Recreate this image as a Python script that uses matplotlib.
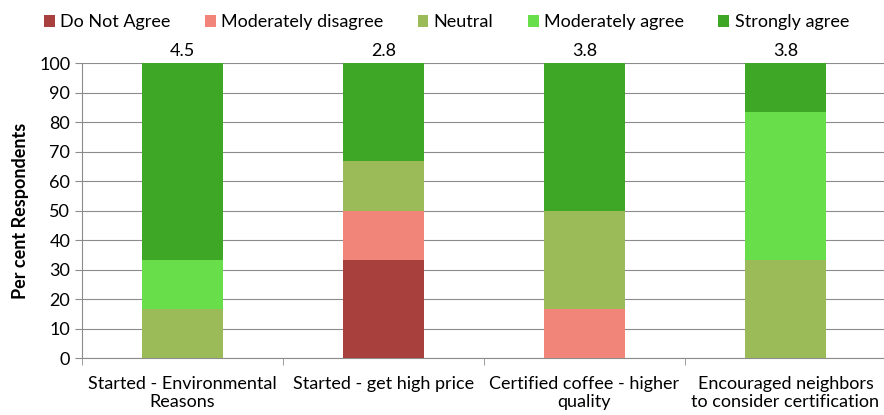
import numpy as np
import matplotlib
matplotlib.use("Agg")
import matplotlib.pyplot as plt

plt.rcParams['font.family'] = ['Lato', 'DejaVu Sans']

categories = ["Started - Environmental\nReasons", "Started - get high price",
              "Certified coffee - higher\nquality", "Encouraged neighbors\nto consider certification"]
series = ["Do Not Agree", "Moderately disagree", "Neutral", "Moderately agree", "Strongly agree"]
values = {
    "Do Not Agree":        [0.0, 33.3, 0.0, 0.0],
    "Moderately disagree": [0.0, 16.7, 16.7, 0.0],
    "Neutral":             [16.7, 16.7, 33.3, 33.3],
    "Moderately agree":    [16.7, 0.0, 0.0, 50.0],
    "Strongly agree":      [66.6, 33.3, 50.0, 16.7],
}
mean_scores = ["4.5", "2.8", "3.8", "3.8"]
colors = ["#A8403D", "#F2857A", "#9BBB59", "#69DE4B", "#3EA826"]

fig = plt.figure(figsize=(8.84, 4.15), dpi=100)
ax = fig.add_axes([0.0928, 0.137, 0.9094, 0.711])

x = np.arange(len(categories))
bottom = np.zeros(len(categories))
for name, col in zip(series, colors):
    v = np.array(values[name])
    ax.bar(x, v, 0.4, bottom=bottom, color=col, label=name, zorder=3)
    bottom += v

for xi, s in zip(x, mean_scores):
    ax.text(xi, 101.5, s, ha='center', va='bottom', fontsize=13, clip_on=False)

ax.set_xlim(-0.5, len(categories) - 0.5)
ax.set_ylim(0, 100)
ax.set_yticks(range(0, 101, 10))
ax.yaxis.grid(True, color='#8c8c8c', linewidth=0.8, zorder=0)
ax.set_xticks(x)
ax.set_xticklabels(categories, fontsize=13, linespacing=1.15)
ax.set_xticks(np.arange(-0.5, len(categories)), minor=True)
ax.tick_params(axis='x', which='major', length=0, pad=13)
ax.tick_params(axis='x', which='minor', length=5, color='#8c8c8c')
ax.tick_params(axis='y', labelsize=13, length=5, color='#8c8c8c')
for s in ['top', 'right']:
    ax.spines[s].set_visible(False)
for s in ['left', 'bottom']:
    ax.spines[s].set_color('#8c8c8c')
ax.set_ylabel("Per cent Respondents", fontsize=13, fontweight='bold')
ax.yaxis.set_label_coords(-0.066, 0.5)

fig.legend(loc='upper center', bbox_to_anchor=(0.505, 1.005), ncol=5, frameon=False,
           fontsize=13, handlelength=0.6, handleheight=0.6, handletextpad=0.3,
           columnspacing=1.9)

fig.savefig("out.png", dpi=100)
